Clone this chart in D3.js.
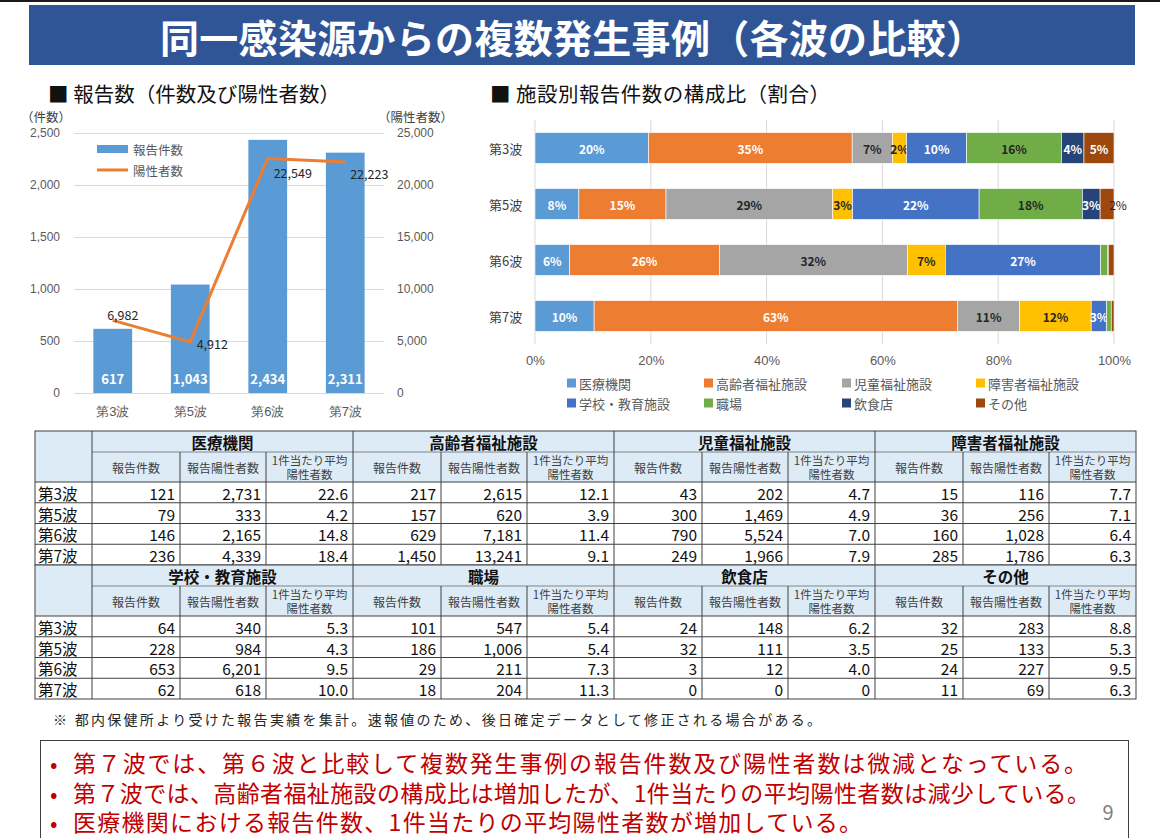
<!DOCTYPE html>
<html>
<head>
<meta charset="utf-8">
<script src="https://cdn.jsdelivr.net/npm/d3@7"></script>
<style>
  body { margin: 0; background: #fff; }
  svg { display: block; font-family: "Noto Sans CJK JP", "Noto Sans", sans-serif; }
</style>
</head>
<body>
<svg id="slide" width="1160" height="838"></svg>
<script>
// ---- data ----
const slideTitle = "同一感染源からの複数発生事例（各波の比較）";
const waves = ["第3波", "第5波", "第6波", "第7波"];
const reportCounts = [617, 1043, 2434, 2311];
const positiveCounts = [6982, 4912, 22549, 22223];
const countTicks = [0, 500, 1000, 1500, 2000, 2500];
const positiveTicks = [0, 5000, 10000, 15000, 20000, 25000];

const facilities = ["医療機関", "高齢者福祉施設", "児童福祉施設", "障害者福祉施設",
                    "学校・教育施設", "職場", "飲食店", "その他"];
// per facility, values for 第3波, 第5波, 第6波, 第7波
const facilityReports = [
  [121, 79, 146, 236],
  [217, 157, 629, 1450],
  [43, 300, 790, 249],
  [15, 36, 160, 285],
  [64, 228, 653, 62],
  [101, 186, 29, 18],
  [24, 32, 3, 0],
  [32, 25, 24, 11]
];
const facilityPositives = [
  [2731, 333, 2165, 4339],
  [2615, 620, 7181, 13241],
  [202, 1469, 5524, 1966],
  [116, 256, 1028, 1786],
  [340, 984, 6201, 618],
  [547, 1006, 211, 204],
  [148, 111, 12, 0],
  [283, 133, 227, 69]
];
const facilityAverages = [
  [22.6, 4.2, 14.8, 18.4],
  [12.1, 3.9, 11.4, 9.1],
  [4.7, 4.9, 7.0, 7.9],
  [7.7, 7.1, 6.4, 6.3],
  [5.3, 4.3, 9.5, 10.0],
  [5.4, 5.4, 7.3, 11.3],
  [6.2, 3.5, 4.0, 0],
  [8.8, 5.3, 9.5, 6.3]
];
const shareTicks = [0, 0.2, 0.4, 0.6, 0.8, 1];
const subHeaders = ["報告件数", "報告陽性者数", "1件当たり平均|陽性者数"];

const footnote = "※ 都内保健所より受けた報告実績を集計。速報値のため、後日確定データとして修正される場合がある。";
const bullets = [
  "第７波では、第６波と比較して複数発生事例の報告件数及び陽性者数は微減となっている。",
  "第７波では、高齢者福祉施設の構成比は増加したが、1件当たりの平均陽性者数は減少している。",
  "医療機関における報告件数、1件当たりの平均陽性者数が増加している。"
];

// colours / layout tweaks
const facilityColors = ["#5B9BD5", "#ED7D31", "#A5A5A5", "#FFC000",
                        "#4472C4", "#70AD47", "#264478", "#9E480E"];
const darkLabelSeries = ["児童福祉施設", "障害者福祉施設", "職場"];
const lineLabelOffsets = [[10, -6], [22, 2], [25, 14], [24, 12]];
const bulletWidths = [1014, 1017, 789];

const svg = d3.select("#slide");
const fmt = d3.format(",");

// ---- title bar ----
svg.append("rect").attr("x", 0).attr("y", 0).attr("width", 1160).attr("height", 2).attr("fill", "#1a1a1a");
svg.append("rect").attr("x", 29).attr("y", 5).attr("width", 1106).attr("height", 60).attr("fill", "#2F5597");
svg.append("text")
  .attr("x", 160).attr("y", 36)
  .attr("dominant-baseline", "central")
  .attr("textLength", 825).attr("lengthAdjust", "spacing")
  .attr("fill", "#fff").attr("font-size", 39).attr("font-weight", "bold")
  .text(slideTitle);

// ---- left chart: counts + positives ----
svg.append("text").attr("x", 48).attr("y", 93).attr("dominant-baseline", "central")
  .attr("textLength", 292).attr("lengthAdjust", "spacing")
  .attr("font-size", 20.5).attr("fill", "#111").text("■ 報告数（件数及び陽性者数）");

const x = d3.scaleBand().domain(waves).range([74, 384]).paddingInner(0.5).paddingOuter(0.25);
const yL = d3.scaleLinear().domain([0, 2500]).range([393, 133]);
const yR = d3.scaleLinear().domain([0, 25000]).range([393, 133]);

const left = svg.append("g");

const axL = left.append("g").attr("transform", "translate(74,0)")
  .call(d3.axisLeft(yL).tickValues(countTicks).tickSize(-310).tickPadding(14).tickFormat(fmt));
axL.select(".domain").remove();
axL.selectAll("line").attr("stroke", "#d9d9d9");
axL.selectAll("text").attr("fill", "#595959").attr("font-size", 12);

const axR = left.append("g").attr("transform", "translate(384,0)")
  .call(d3.axisRight(yR).tickValues(positiveTicks).tickSize(0).tickPadding(13).tickFormat(fmt));
axR.select(".domain").remove();
axR.selectAll("text").attr("fill", "#595959").attr("font-size", 12);

left.append("text").attr("x", 21).attr("y", 116).attr("dominant-baseline", "central")
  .attr("font-size", 12.5).attr("fill", "#404040").text("（件数）");
left.append("text").attr("x", 378).attr("y", 116).attr("dominant-baseline", "central")
  .attr("font-size", 12.5).attr("fill", "#404040").text("（陽性者数）");

left.selectAll("rect.bar").data(waves).enter().append("rect")
  .attr("class", "bar")
  .attr("x", d => x(d)).attr("width", x.bandwidth())
  .attr("y", (d, i) => yL(reportCounts[i]))
  .attr("height", (d, i) => yL(0) - yL(reportCounts[i]))
  .attr("fill", "#5B9BD5");

left.selectAll("text.barlbl").data(waves).enter().append("text")
  .attr("class", "barlbl")
  .attr("x", d => x(d) + x.bandwidth() / 2).attr("y", 378)
  .attr("text-anchor", "middle").attr("dominant-baseline", "central")
  .attr("fill", "#fff").attr("font-size", 13).attr("font-weight", "bold")
  .text((d, i) => fmt(reportCounts[i]));

const line = d3.line()
  .x((d, i) => x(waves[i]) + x.bandwidth() / 2)
  .y(d => yR(d));
left.append("path").datum(positiveCounts)
  .attr("d", line).attr("fill", "none")
  .attr("stroke", "#ED7D31").attr("stroke-width", 3);

left.selectAll("text.linelbl").data(positiveCounts).enter().append("text")
  .attr("class", "linelbl")
  .attr("x", (d, i) => x(waves[i]) + x.bandwidth() / 2 + lineLabelOffsets[i][0])
  .attr("y", (d, i) => yR(d) + lineLabelOffsets[i][1])
  .attr("text-anchor", "middle").attr("dominant-baseline", "central")
  .attr("fill", "#262626").attr("font-size", 12.5)
  .text(d => fmt(d));

const axB = left.append("g").attr("transform", "translate(0,393)")
  .call(d3.axisBottom(x).tickSize(0).tickPadding(14));
axB.select(".domain").attr("stroke", "#d9d9d9");
axB.selectAll("text").attr("fill", "#595959").attr("font-size", 13);

// legend
left.append("rect").attr("x", 97).attr("y", 145).attr("width", 31).attr("height", 8).attr("fill", "#5B9BD5");
left.append("text").attr("x", 133).attr("y", 149).attr("dominant-baseline", "central")
  .attr("font-size", 12.5).attr("fill", "#595959").text("報告件数");
left.append("line").attr("x1", 97).attr("x2", 128).attr("y1", 170).attr("y2", 170)
  .attr("stroke", "#ED7D31").attr("stroke-width", 3);
left.append("text").attr("x", 133).attr("y", 170).attr("dominant-baseline", "central")
  .attr("font-size", 12.5).attr("fill", "#595959").text("陽性者数");

// ---- right chart: composition ----
svg.append("text").attr("x", 490).attr("y", 93).attr("dominant-baseline", "central")
  .attr("textLength", 340).attr("lengthAdjust", "spacing")
  .attr("font-size", 20.5).attr("fill", "#111").text("■ 施設別報告件数の構成比（割合）");

const xs = d3.scaleLinear().domain([0, 1]).range([535, 1114]);
const yb = d3.scaleBand().domain(waves).range([120, 344]).paddingInner(0.45).paddingOuter(0.225);
const right = svg.append("g");

right.selectAll("line.grid").data(shareTicks).enter().append("line")
  .attr("class", "grid")
  .attr("x1", d => xs(d)).attr("x2", d => xs(d))
  .attr("y1", 120).attr("y2", 344)
  .attr("stroke", "#d9d9d9");

const axS = right.append("g").attr("transform", "translate(0,344)")
  .call(d3.axisBottom(xs).tickValues(shareTicks).tickSize(0).tickPadding(12).tickFormat(d3.format(".0%")));
axS.select(".domain").remove();
axS.selectAll("text").attr("fill", "#595959").attr("font-size", 13);

right.selectAll("text.cat").data(waves).enter().append("text")
  .attr("class", "cat")
  .attr("x", 489).attr("y", d => yb(d) + yb.bandwidth() / 2)
  .attr("dominant-baseline", "central")
  .attr("fill", "#404040").attr("font-size", 13)
  .text(d => d);

const shareRows = waves.map((w, i) => {
  const total = d3.sum(facilityReports, f => f[i]);
  const row = { wave: w };
  facilities.forEach((f, j) => { row[f] = facilityReports[j][i] / total; });
  return row;
});
const stacked = d3.stack().keys(facilities)(shareRows);

const series = right.selectAll("g.series").data(stacked).enter().append("g")
  .attr("class", "series")
  .attr("fill", (d, i) => facilityColors[i]);

series.selectAll("rect").data(d => d).enter().append("rect")
  .attr("x", d => xs(d[0]))
  .attr("width", d => xs(d[1]) - xs(d[0]))
  .attr("y", d => yb(d.data.wave))
  .attr("height", yb.bandwidth())
  .attr("stroke", "#fff").attr("stroke-width", 0.6);

series.each(function(s) {
  const key = s.key;
  const narrow = d => xs(d[1]) - xs(d[0]) < 15;
  d3.select(this).selectAll("text").data(s.filter(d => Math.round((d[1] - d[0]) * 100) >= 2))
    .enter().append("text")
    .attr("x", d => narrow(d) && !darkLabelSeries.includes(key) ? xs(d[1]) + 4 : (xs(d[0]) + xs(d[1])) / 2)
    .attr("y", d => yb(d.data.wave) + yb.bandwidth() / 2)
    .attr("text-anchor", "middle").attr("dominant-baseline", "central")
    .attr("font-size", 12)
    .attr("font-weight", d => narrow(d) && !darkLabelSeries.includes(key) ? "normal" : "bold")
    .attr("fill", d => (darkLabelSeries.includes(key) || narrow(d)) ? "#262626" : "#fff")
    .text(d => Math.round((d[1] - d[0]) * 100) + "%");
});

const legendCols = [567, 704, 842, 976];
const lg = right.selectAll("g.lg").data(facilities).enter().append("g")
  .attr("class", "lg")
  .attr("transform", (d, i) => `translate(${legendCols[i % 4]},${i < 4 ? 383 : 403})`);
lg.append("rect").attr("x", 0).attr("y", -4.5).attr("width", 9).attr("height", 9)
  .attr("fill", (d, i) => facilityColors[i]);
lg.append("text").attr("x", 12).attr("y", 0).attr("dominant-baseline", "central")
  .attr("font-size", 13).attr("fill", "#595959").text(d => d);

// ---- table ----
const tbl = svg.append("g");
const tx0 = 35, labelW = 57, tx1 = 1136;
const groupW = (tx1 - tx0 - labelW) / 4;
const subW = [88, 86, groupW - 174];
const groupH = 21, subH = 30, rowH = 20.75;
const blockH = groupH + subH + rowH * 4;
const stroke = "#404040";

[0, 1].forEach(b => {
  const y0 = 431 + b * blockH;
  const yData = y0 + groupH + subH;
  const yEnd = y0 + blockH;
  tbl.append("rect").attr("x", tx0).attr("y", y0).attr("width", tx1 - tx0).attr("height", groupH + subH)
    .attr("fill", "#DDEBF7");

  for (let g = 0; g < 4; g++) {
    const fi = b * 4 + g;
    const gx = tx0 + labelW + g * groupW;
    tbl.append("text").attr("x", gx + groupW / 2).attr("y", y0 + groupH / 2 + 0.5)
      .attr("text-anchor", "middle").attr("dominant-baseline", "central")
      .attr("font-size", 15.5).attr("font-weight", "bold").attr("fill", "#111")
      .text(facilities[fi]);

    let cx = gx;
    subHeaders.forEach((h, k) => {
      const parts = h.split("|");
      const mid = cx + subW[k] / 2;
      parts.forEach((p, pi) => {
        tbl.append("text")
          .attr("x", mid)
          .attr("y", parts.length === 1 ? y0 + groupH + subH / 2 : y0 + groupH + 8 + pi * 14)
          .attr("text-anchor", "middle").attr("dominant-baseline", "central")
          .attr("font-size", parts.length === 1 ? 12 : 11.5).attr("fill", "#404040")
          .text(p);
      });
      const colVals = [facilityReports[fi], facilityPositives[fi], facilityAverages[fi]][k];
      colVals.forEach((v, r) => {
        tbl.append("text")
          .attr("x", cx + subW[k] - 5)
          .attr("y", yData + r * rowH + rowH / 2 + 0.5)
          .attr("text-anchor", "end").attr("dominant-baseline", "central")
          .attr("font-size", 15.5).attr("fill", "#111")
          .text(k === 2 ? (v === 0 ? "0" : v.toFixed(1)) : fmt(v));
      });
      if (k > 0) {
        tbl.append("line").attr("x1", cx).attr("x2", cx).attr("y1", y0 + groupH).attr("y2", yEnd)
          .attr("stroke", stroke);
      }
      cx += subW[k];
    });
    tbl.append("line").attr("x1", gx).attr("x2", gx).attr("y1", y0).attr("y2", yEnd).attr("stroke", stroke);
  }

  waves.forEach((w, r) => {
    tbl.append("text").attr("x", tx0 + 3).attr("y", yData + r * rowH + rowH / 2 + 0.5)
      .attr("dominant-baseline", "central").attr("font-size", 15.5).attr("fill", "#111").text(w);
    tbl.append("line").attr("x1", tx0).attr("x2", tx1)
      .attr("y1", yData + r * rowH).attr("y2", yData + r * rowH).attr("stroke", stroke);
  });
  tbl.append("line").attr("x1", tx0 + labelW).attr("x2", tx1).attr("y1", y0 + groupH).attr("y2", y0 + groupH)
    .attr("stroke", stroke).attr("stroke-width", 0.6);
  tbl.append("rect").attr("x", tx0).attr("y", y0).attr("width", tx1 - tx0).attr("height", blockH)
    .attr("fill", "none").attr("stroke", stroke);
});

// ---- notes ----
svg.append("text").attr("x", 53).attr("y", 719).attr("dominant-baseline", "central")
  .attr("textLength", 768).attr("lengthAdjust", "spacing")
  .attr("font-size", 14).attr("fill", "#262626").text(footnote);

svg.append("rect").attr("x", 40.5).attr("y", 740.5).attr("width", 1088).attr("height", 120)
  .attr("fill", "#fff").attr("stroke", "#404040");

const bl = svg.selectAll("g.bullet").data(bullets).enter().append("g")
  .attr("class", "bullet")
  .attr("transform", (d, i) => `translate(0,${762 + i * 29.5})`);
bl.append("text").attr("x", 50).attr("y", 0).attr("dominant-baseline", "central")
  .attr("font-size", 22).attr("fill", "#C00000").text("•");
bl.append("text").attr("x", 73).attr("y", 0).attr("dominant-baseline", "central")
  .attr("textLength", (d, i) => bulletWidths[i]).attr("lengthAdjust", "spacing")
  .attr("font-size", 23).attr("fill", "#C00000").text(d => d);

svg.append("text").attr("x", 1108).attr("y", 811).attr("text-anchor", "middle").attr("dominant-baseline", "central")
  .attr("font-size", 20).attr("fill", "#808080").text("9");
</script>
</body>
</html>
